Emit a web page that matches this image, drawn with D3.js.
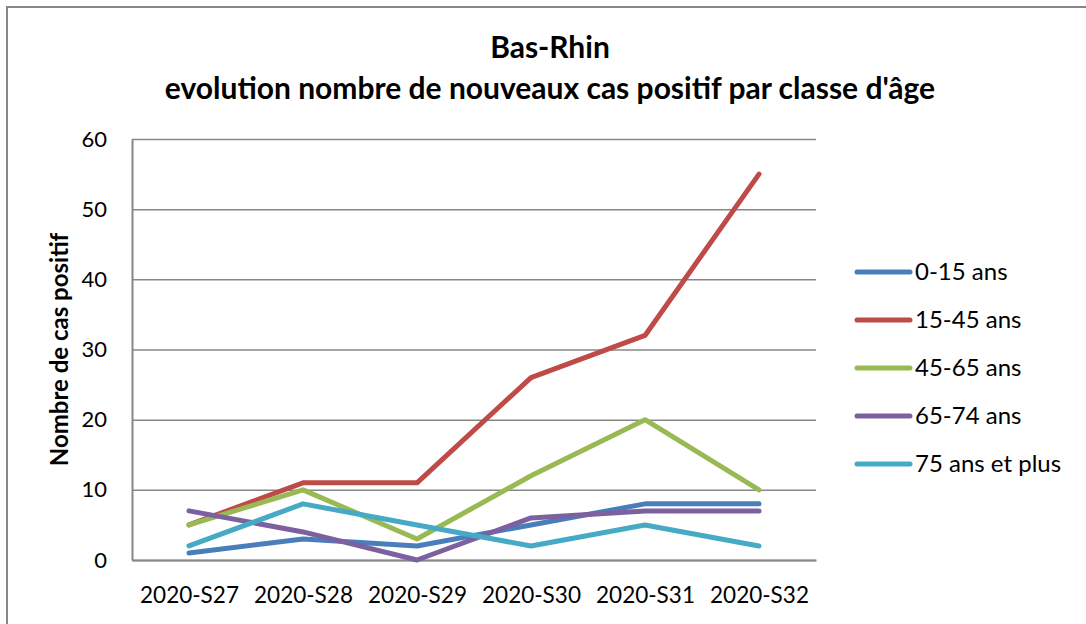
<!DOCTYPE html>
<html>
<head>
<meta charset="utf-8">
<script src="https://cdn.jsdelivr.net/npm/d3@7"></script>
<style>
  body { margin: 0; background: #fff; }
  text { font-family: Lato, "Open Sans", sans-serif; fill: #000; }
</style>
</head>
<body>
<div class="chart"></div>
<script>
const weeks = ["2020-S27", "2020-S28", "2020-S29", "2020-S30", "2020-S31", "2020-S32"];
const seriesNames = ["0-15 ans", "15-45 ans", "45-65 ans", "65-74 ans", "75 ans et plus"];
const colors = ["#4a7ebb", "#be4b48", "#98b954", "#7d60a0", "#46aac5"];
const ages0_15 = [1, 3, 2, 5, 8, 8];
const ages15_45 = [5, 11, 11, 26, 32, 55];
const ages45_65 = [5, 10, 3, 12, 20, 10];
const ages65_74 = [7, 4, 0, 6, 7, 7];
const ages75plus = [2, 8, 5, 2, 5, 2];
const yTicks = [0, 10, 20, 30, 40, 50, 60];

const allSeries = [ages0_15, ages15_45, ages45_65, ages65_74, ages75plus];

var margin = {top: 139, left: 132};
var width = 684, height = 421;

const svg = d3.select(".chart").append("svg")
    .attr("width", 1086)
    .attr("height", 624);

// outer frame
svg.append("rect")
    .attr("x", 7).attr("y", 7)
    .attr("width", 1200).attr("height", 800)
    .attr("fill", "none")
    .attr("stroke", "#878787")
    .attr("stroke-width", 2);

const g = svg.append("g")
    .attr("transform", "translate(" + margin.left + "," + margin.top + ")");

const xScale = d3.scalePoint()
    .domain(weeks)
    .range([0, width])
    .padding(0.5);

const yScale = d3.scaleLinear()
    .domain([0, 60])
    .range([height, 0]);

// gridlines
g.append("g")
    .attr("class", "grid")
    .call(d3.axisLeft(yScale).tickValues(yTicks).tickSize(-width).tickFormat(""))
    .call(s => s.select(".domain").remove())
    .selectAll("line")
    .attr("stroke", "#878787")
    .attr("stroke-width", 1.5);

// y axis
g.append("g")
    .attr("class", "axis y-axis")
    .call(d3.axisLeft(yScale).tickValues(yTicks).tickSize(0).tickPadding(25))
    .call(s => s.select(".domain").attr("stroke", "#878787").attr("stroke-width", 2))
    .selectAll("text")
    .style("font-size", "22px");

// x axis
g.append("g")
    .attr("class", "axis x-axis")
    .attr("transform", `translate(0, ${height})`)
    .call(d3.axisBottom(xScale).tickSize(0).tickPadding(27))
    .call(s => s.select(".domain").attr("stroke", "#878787").attr("stroke-width", 2))
    .selectAll("text")
    .style("font-size", "22.5px");

const line = d3.line()
    .x((d, i) => xScale(weeks[i]))
    .y(d => yScale(d));

allSeries.forEach((vals, k) => {
  g.append("path")
      .datum(vals)
      .attr("fill", "none")
      .attr("stroke", colors[k])
      .attr("stroke-width", 5)
      .attr("stroke-linejoin", "round")
      .attr("stroke-linecap", "round")
      .attr("d", line);
});

// title
svg.append("text")
    .attr("x", 550).attr("y", 58)
    .attr("text-anchor", "middle")
    .style("font-size", "30px").style("font-weight", "bold")
    .text("Bas-Rhin");
svg.append("text")
    .attr("x", 550).attr("y", 99)
    .attr("text-anchor", "middle")
    .style("font-size", "30px").style("font-weight", "bold")
    .text("evolution nombre de nouveaux cas positif par classe d'âge");

// y axis label
svg.append("text")
    .attr("transform", "translate(68," + (margin.top + height / 2) + ") rotate(-90)")
    .attr("text-anchor", "middle")
    .style("font-size", "24px").style("font-weight", "bold")
    .text("Nombre de cas positif");

// legend
const legend = svg.append("g").attr("transform", "translate(857,272)");
seriesNames.forEach((name, k) => {
  const row = legend.append("g").attr("transform", `translate(0, ${k * 48})`);
  row.append("line")
      .attr("x1", 0).attr("x2", 53)
      .attr("stroke", colors[k])
      .attr("stroke-width", 5)
      .attr("stroke-linecap", "round");
  row.append("text")
      .attr("x", 58).attr("y", 8)
      .style("font-size", "24px")
      .text(name);
});
</script>
</body>
</html>
